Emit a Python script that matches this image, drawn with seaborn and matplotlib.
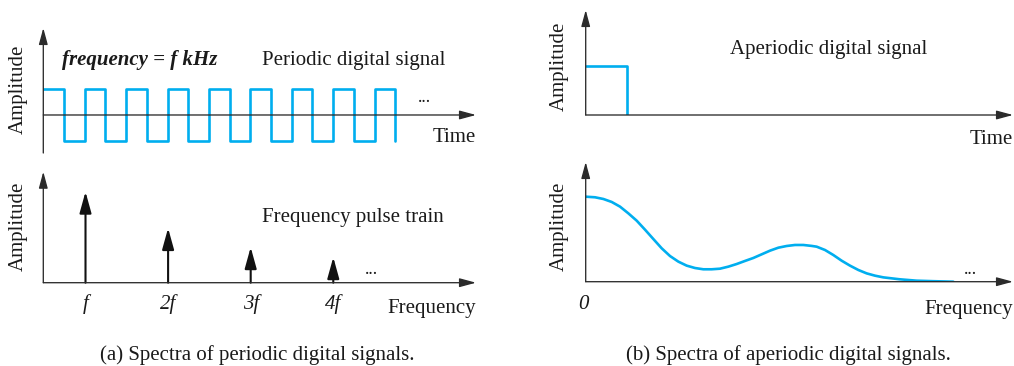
import matplotlib
matplotlib.use("Agg")
import matplotlib.pyplot as plt
import seaborn as sns

# ---------------- data ----------------
# (a) periodic square wave: edge times and levels
wave_t = [0, 0.5, 1, 1.5, 2, 2.5, 3, 3.5, 4, 4.5, 5, 5.5, 6, 6.5, 7, 7.5, 8, 8.5]
wave_level = [1, -1, 1, -1, 1, -1, 1, -1, 1, -1, 1, -1, 1, -1, 1, -1, 1, -1]

# (a) frequency pulse train
pulse_k = [1, 2, 3, 4]
pulse_amp = [1.0, 0.60, 0.39, 0.28]
pulse_labels = ["f", "2f", "3f", "4f"]

# (b) single aperiodic pulse
single_t = [0, 1, 1]
single_level = [1, 1, 0]

# (b) continuous spectrum
spec_f = [0.0, 0.218, 0.413, 0.608, 0.803, 0.998, 1.193, 1.388, 1.583, 1.778,
          1.973, 2.168, 2.363, 2.558, 2.753, 2.948, 3.143, 3.338, 3.533, 3.728,
          3.923, 4.118, 4.313, 4.508, 4.703, 4.898, 5.093, 5.288, 5.405, 5.600,
          5.795, 5.990, 6.185, 6.380, 6.575, 6.770, 6.965, 7.355, 7.745, 8.135,
          8.604]
spec_amp = [1.0, 0.993, 0.973, 0.938, 0.883, 0.804, 0.718, 0.612, 0.502, 0.393,
            0.302, 0.236, 0.189, 0.161, 0.146, 0.146, 0.153, 0.177, 0.208, 0.244,
            0.279, 0.322, 0.365, 0.400, 0.420, 0.432, 0.432, 0.421, 0.412, 0.373,
            0.314, 0.247, 0.189, 0.138, 0.098, 0.071, 0.051, 0.028, 0.012, 0.006,
            0.0]

captions = ["(a) Spectra of periodic digital signals.",
            "(b) Spectra of aperiodic digital signals."]

# ---------------- style ----------------
sns.set_theme(style="white")
plt.rcParams["font.family"] = ["Liberation Serif", "DejaVu Serif"]

W, H = 1014, 366
CYAN = "#00AEEF"
AX_C = "#2b2b2b"
FS = 15

fig = plt.figure(figsize=(W / 100, H / 100), dpi=100)


def make_ax(x0, x1, ytop, ybot):
    ax = fig.add_axes([x0 / W, 1 - ybot / H, (x1 - x0) / W, (ybot - ytop) / H])
    ax.axis("off")
    return ax


def ftxt(x, y, s, **kw):
    kw.setdefault("fontsize", FS)
    kw.setdefault("color", "#1a1a1a")
    fig.text(x / W, 1 - y / H, s, **kw)


AXSTYLE = dict(arrowstyle="-|>,head_length=1.0,head_width=0.27",
               color=AX_C, lw=0.95, shrinkA=0, shrinkB=0, mutation_scale=10)


def axis_arrows(ax):
    # x axis at data y = 0
    ax.annotate("", xy=(1, 0), xytext=(0, 0), xycoords=ax.get_yaxis_transform(),
                textcoords=ax.get_yaxis_transform(), arrowprops=AXSTYLE)
    # y axis at left edge
    ax.annotate("", xy=(0, 1), xytext=(0, 0), xycoords="axes fraction",
                textcoords="axes fraction", arrowprops=AXSTYLE)


# ---- (a) top: periodic digital signal ----
ax1 = make_ax(43.3, 476, 28, 153)
ax1.set_xlim(0, 10.45)
ax1.set_ylim(-1.49, 3.41)
sns.lineplot(x=wave_t, y=wave_level, ax=ax1, color=CYAN, lw=1.9,
             drawstyle="steps-post", estimator=None, sort=False)
axis_arrows(ax1)
ftxt(61.7, 65, "frequency = f kHz", fontweight="bold", fontstyle="italic",
     ha="left", va="baseline")
ftxt(262, 65, "Periodic digital signal", ha="left", va="baseline")
ftxt(424, 102, "...", ha="center", va="baseline", fontsize=13)
ftxt(476, 141.7, "Time", ha="right", va="baseline")
ftxt(18, 89, "Amplitude", rotation=90, ha="center", va="center")

# ---- (a) bottom: frequency pulse train ----
ax2 = make_ax(43.3, 476, 171.7, 282.7)
ax2.set_xlim(0.489, 5.728)
ax2.set_ylim(0, 1.22)
PSTYLE = dict(arrowstyle="-|>,head_length=1.3,head_width=0.36",
              color="#111111", lw=1.5, shrinkA=0, shrinkB=0, mutation_scale=10)
for k, a in zip(pulse_k, pulse_amp):
    ax2.annotate("", xy=(k, a), xytext=(k, 0), arrowprops=PSTYLE)
axis_arrows(ax2)
for k, lab in zip(pulse_k, pulse_labels):
    xp = ax2.transData.transform((k, 0))[0]
    fig.text(xp / fig.bbox.width, 1 - 309.5 / H, lab, fontsize=FS,
             fontstyle="italic", ha="center", va="baseline", color="#1a1a1a")
ftxt(262, 221.7, "Frequency pulse train", ha="left", va="baseline")
ftxt(371.5, 273.5, "...", ha="center", va="baseline", fontsize=13)
ftxt(476, 313, "Frequency", ha="right", va="baseline")
ftxt(18, 226, "Amplitude", rotation=90, ha="center", va="center")

# ---- (b) top: aperiodic digital signal ----
ax3 = make_ax(585.7, 1013, 10, 115)
ax3.set_xlim(0, 10.35)
ax3.set_ylim(0, 2.13)
sns.lineplot(x=single_t, y=single_level, ax=ax3, color=CYAN, lw=1.9,
             estimator=None, sort=False)
axis_arrows(ax3)
ftxt(730, 54.3, "Aperiodic digital signal", ha="left", va="baseline")
ftxt(1013, 144, "Time", ha="right", va="baseline")
ftxt(559, 66, "Amplitude", rotation=90, ha="center", va="center")

# ---- (b) bottom: continuous spectrum ----
ax4 = make_ax(585.7, 1013, 162, 281.7)
ax4.set_xlim(0, 10)
ax4.set_ylim(0, 1.408)
sns.lineplot(x=spec_f, y=spec_amp, ax=ax4, color=CYAN, lw=1.9,
             estimator=None, sort=False)
axis_arrows(ax4)
ftxt(583, 309, "0", fontstyle="italic", ha="center", va="baseline")
ftxt(970, 273.5, "...", ha="center", va="baseline", fontsize=13)
ftxt(1013, 314, "Frequency", ha="right", va="baseline")
ftxt(559, 226, "Amplitude", rotation=90, ha="center", va="center")

# ---- captions ----
ftxt(257, 360, captions[0], ha="center", va="baseline")
ftxt(788, 360, captions[1], ha="center", va="baseline")

fig.savefig("out.png", dpi=100)
